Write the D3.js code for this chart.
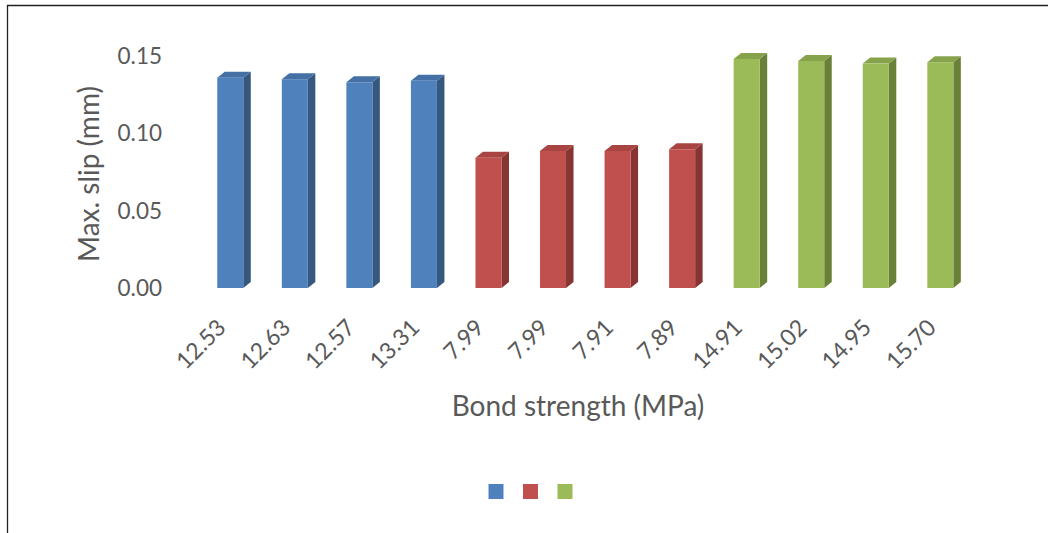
<!DOCTYPE html>
<html>
<head>
<meta charset="utf-8">
<script src="https://cdn.jsdelivr.net/npm/d3@7/dist/d3.min.js"></script>
<style>
  html, body { margin: 0; padding: 0; background: #fff; }
  svg { display: block; }
  text { font-family: Lato, "Open Sans", sans-serif; fill: #595959; }
</style>
</head>
<body>
<svg id="chart" width="1048" height="533"></svg>
<script>
// ---- data ----
const bondStrength = ["12.53","12.63","12.57","13.31","7.99","7.99","7.91","7.89","14.91","15.02","14.95","15.70"];
const maxSlip = [0.1363,0.1353,0.1333,0.1343,0.0844,0.0888,0.0888,0.0899,0.1484,0.1471,0.1454,0.1463];
const seriesIndex = [0,0,0,0,1,1,1,1,2,2,2,2];
const yTicks = [0, 0.05, 0.10, 0.15];
const seriesNames = ["", "", ""];

// ---- styles ----
const frontColors = ["#4F81BD", "#C0504D", "#9BBB59"];
const sideColors  = ["#36587F", "#863533", "#6A8038"];
const topColors   = ["#4470A6", "#A84542", "#86A34C"];

const svg = d3.select("#chart");
const W = 1048, H = 533;

// frame
svg.append("path")
  .attr("d", `M7.5,${H} L7.5,5.5 L${W},5.5`)
  .attr("fill", "none").attr("stroke", "#222").attr("stroke-width", 1.3);

const y = d3.scaleLinear().domain([0, 0.15]).range([288, 56.5]);
const x = d3.scaleBand().domain(d3.range(bondStrength.length))
  .range([197.9, 972.7]).paddingInner(0.597).paddingOuter(0.3);

const dx = 7.5, dy = 6;

// y axis labels
const yAxis = d3.axisLeft(y).tickValues(yTicks).tickFormat(d3.format(".2f")).tickSize(0).tickPadding(0);
const gy = svg.append("g").attr("transform", "translate(162,0)").call(yAxis);
gy.select(".domain").remove();
gy.selectAll("text").style("font-size", "22.5px").attr("fill", "#595959")
  .style("font-family", "Lato, 'Open Sans', sans-serif");

// bars
const bars = svg.append("g").selectAll("g").data(maxSlip).join("g");
bars.each(function(v, i) {
  const g = d3.select(this);
  const x0 = x(i), w = x.bandwidth();
  const yt = y(v), yb = y(0);
  const s = seriesIndex[i];
  g.append("path")
    .attr("d", `M${x0+w},${yb} L${x0+w+dx},${yb-dy} L${x0+w+dx},${yt-dy} L${x0+w},${yt} Z`)
    .attr("fill", sideColors[s]);
  g.append("path")
    .attr("d", `M${x0},${yt} L${x0+dx},${yt-dy} L${x0+w+dx},${yt-dy} L${x0+w},${yt} Z`)
    .attr("fill", topColors[s]);
  g.append("rect")
    .attr("x", x0).attr("y", yt).attr("width", w).attr("height", yb - yt)
    .attr("fill", frontColors[s]);
});

// x category labels
svg.append("g").selectAll("text").data(bondStrength).join("text")
  .attr("transform", (d, i) => `translate(${x(i) + x.bandwidth()/2 - 3},329) rotate(-45)`)
  .attr("text-anchor", "end")
  .style("font-size", "23px")
  .text(d => d);

// axis titles
svg.append("text")
  .attr("x", 578).attr("y", 416)
  .attr("text-anchor", "middle")
  .style("font-size", "28px")
  .text("Bond strength (MPa)");

svg.append("text")
  .attr("transform", "translate(99,174) rotate(-90)")
  .attr("text-anchor", "middle")
  .style("font-size", "28px")
  .text("Max. slip (mm)");

// legend
const legendX = d3.scalePoint().domain(d3.range(3)).range([488.5, 557.5]);
svg.append("g").selectAll("rect").data(seriesNames).join("rect")
  .attr("x", (d, i) => legendX(i)).attr("y", 484)
  .attr("width", 15).attr("height", 15)
  .attr("fill", (d, i) => frontColors[i]);
</script>
</body>
</html>
